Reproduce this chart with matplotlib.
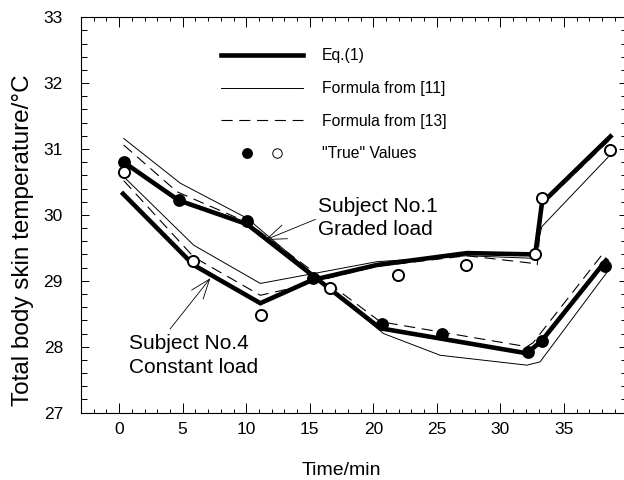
import matplotlib
matplotlib.use("Agg")
import matplotlib.pyplot as plt
from matplotlib.lines import Line2D
from matplotlib.legend_handler import HandlerTuple
from matplotlib.ticker import MultipleLocator

plt.rcParams['font.family'] = ['Liberation Sans', 'DejaVu Sans']

# ---- data ----
# Subject No.1, graded load
t1_true = [0.36, 4.69, 10.06, 15.25, 20.68, 25.39, 32.2, 33.25, 38.23]
T1_true = [30.80, 30.22, 29.90, 29.05, 28.34, 28.19, 27.92, 28.08, 29.22]
t1_eq = [0.36, 4.69, 10.06, 20.54, 32.08, 33.25, 38.31]
T1_eq = [30.80, 30.22, 29.86, 28.28, 27.90, 28.09, 29.31]
t1_f11 = [0.36, 4.82, 10.06, 20.8, 25.26, 32.08, 33.12, 38.62]
T1_f11 = [31.16, 30.48, 29.95, 28.20, 27.87, 27.72, 27.77, 29.19]
t1_f13 = [0.36, 4.56, 10.06, 20.54, 32.08, 32.57, 38.1]
T1_f13 = [31.06, 30.35, 29.89, 28.38, 28.00, 28.06, 29.42]

# Subject No.4, constant load
t4_true = [0.36, 5.82, 11.16, 16.6, 21.93, 27.28, 32.74, 33.27, 38.62]
T4_true = [30.65, 29.30, 28.48, 28.89, 29.09, 29.24, 29.40, 30.25, 30.98]
t4_eq = [0.31, 5.86, 11.11, 15.17, 20.28, 27.36, 32.74, 33.27, 38.66]
T4_eq = [30.32, 29.24, 28.66, 29.01, 29.24, 29.42, 29.40, 30.18, 31.19]
t4_f11 = [0.36, 5.87, 11.11, 15.3, 20.28, 27.36, 32.73, 33.25, 38.49]
T4_f11 = [30.58, 29.54, 28.96, 29.11, 29.29, 29.38, 29.34, 29.82, 30.88]
t4_f13 = [0.36, 5.87, 11.11, 12.94, 15.2, 20.28, 27.36, 32.34, 32.9, 33.27, 38.66]
T4_f13 = [30.52, 29.36, 28.78, 28.86, 28.98, 29.22, 29.38, 29.27, 29.24, 30.15, 31.15]

x_ticks = [0, 5, 10, 15, 20, 25, 30, 35]
y_ticks = [27, 28, 29, 30, 31, 32, 33]
legend_labels = ['Eq.(1)', 'Formula from [11]', 'Formula from [13]', '"True" Values']

# ---- figure ----
fig = plt.figure(figsize=(6.24, 4.8), dpi=100)
ax = fig.add_axes([0.1298, 0.1404, 1.0056 - 0.1298, 0.9642 - 0.1404])

lw_thick, lw_thin, lw_dash = 3.3, 0.7, 0.8
dash = (0, (10, 6))

for t, T in [(t1_f11, T1_f11), (t4_f11, T4_f11)]:
    ax.plot(t, T, color='black', lw=lw_thin, zorder=2)
for t, T in [(t1_f13, T1_f13), (t4_f13, T4_f13)]:
    ax.plot(t, T, color='black', lw=lw_dash, ls=dash, zorder=2)
for t, T in [(t1_eq, T1_eq), (t4_eq, T4_eq)]:
    ax.plot(t, T, color='black', lw=lw_thick, zorder=3, solid_joinstyle='miter')

ax.plot(t1_true, T1_true, ls='none', marker='o', ms=8.2, color='black', zorder=4)
ax.plot(t4_true, T4_true, ls='none', marker='o', ms=8.0, mfc='white', mec='black',
        mew=1.4, zorder=4)

ax.set_xlim(-3, 40)
ax.set_ylim(27, 33)
ax.set_xticks(x_ticks)
ax.set_yticks(y_ticks)
ax.xaxis.set_minor_locator(MultipleLocator(1))
ax.yaxis.set_minor_locator(MultipleLocator(0.2))
ax.tick_params(which='both', direction='in', top=True, right=True, width=0.7)
ax.tick_params(axis='x', which='major', length=7, pad=6.5, labelsize=12.5)
ax.tick_params(axis='x', which='minor', length=3)
ax.tick_params(axis='y', which='major', length=5.5, pad=13, labelsize=12.5)
ax.tick_params(axis='y', which='minor', length=4)
for s in ax.spines.values():
    s.set_linewidth(0.8)

ax.set_xlabel('Time/min', fontsize=14, va='center')
ax.xaxis.set_label_coords(0.477, -0.147)
ax.set_ylabel('Total body skin temperature/°C', fontsize=17.5, va='center')
ax.yaxis.set_label_coords(-0.107, 0.437)

# legend
h1 = Line2D([], [], color='black', lw=lw_thick)
h2 = Line2D([], [], color='black', lw=lw_thin)
h3 = Line2D([], [], color='black', lw=lw_dash, ls=dash)
h4a = Line2D([], [], ls='none', marker='o', ms=6.8, color='black')
h4b = Line2D([], [], ls='none', marker='o', ms=6.8, mfc='white', mec='black', mew=0.7)
ax.legend([h1, h2, h3, (h4a, h4b)], legend_labels,
          handler_map={tuple: HandlerTuple(ndivide=None, pad=-1.35)},
          loc='upper left', bbox_to_anchor=(0.2566, 0.921), borderpad=0,
          borderaxespad=0, frameon=False, fontsize=11.3, handlelength=5.2,
          handletextpad=1.2, labelspacing=1.12)

arrow = dict(arrowstyle='->, head_length=0.95, head_width=0.35', lw=0.6,
             color='black', shrinkA=0, shrinkB=0)
ax.annotate('Subject No.1\nGraded load', xy=(11.5, 29.62), xytext=(15.67, 29.95),
            ha='left', va='center', fontsize=15, linespacing=1.3,
            arrowprops=dict(arrow, relpos=(0.0, 0.5)))
ax.annotate('Subject No.4\nConstant load', xy=(7.18, 29.04), xytext=(0.75, 27.87),
            ha='left', va='center', fontsize=15, linespacing=1.3,
            arrowprops=dict(arrow, relpos=(0.29, 1.0), shrinkA=2))

fig.savefig('out.png', dpi=100)
